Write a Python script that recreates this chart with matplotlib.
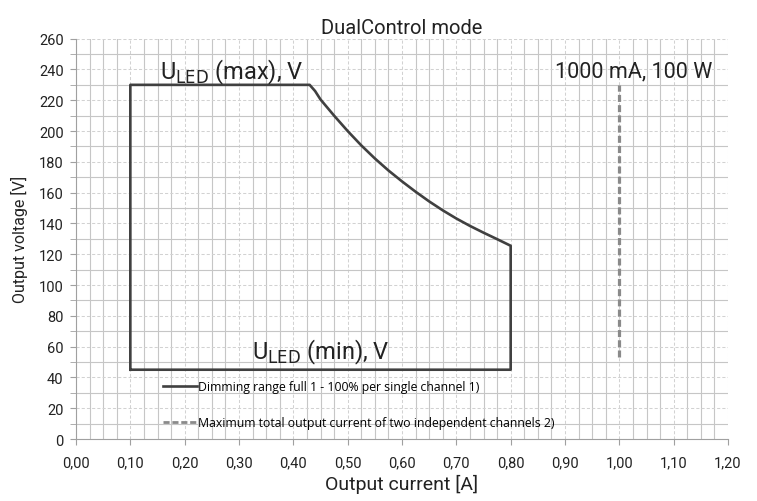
import matplotlib
matplotlib.use('Agg')
import matplotlib.pyplot as plt
from matplotlib.ticker import MultipleLocator, FuncFormatter
from matplotlib.lines import Line2D

plt.rcParams['font.family'] = ['Roboto', 'DejaVu Sans']

# Dimming range outline (output current [A], output voltage [V])
range_current = [0.10, 0.10, 0.43, 0.44, 0.45, 0.475, 0.50, 0.525, 0.55, 0.575, 0.60, 0.625,
                 0.65, 0.675, 0.70, 0.725, 0.75, 0.775, 0.80, 0.80, 0.10]
range_voltage = [45, 230, 230, 226, 220.5, 210, 200, 190.7, 182.2, 174.4, 167.3, 160.6,
                 154.3, 148.5, 143.2, 138.4, 134, 129.8, 125.5, 45, 45]

# Maximum total output current line
max_current = [1.00, 1.00]
max_voltage = [53, 230]

labels = ['Dimming range full 1 - 100% per single channel 1)',
          'Maximum total output current of two independent channels 2)']

fig = plt.figure(figsize=(7.57, 5.02), dpi=100)
ax = fig.add_axes([0.1004, 0.1235, 0.8613, 0.7975])

ax.plot(range_current, range_voltage, color='#404040', lw=1.9, solid_joinstyle='round', zorder=3)
ax.plot(max_current, max_voltage, color='#8a8a8a', lw=2.3, dashes=(2.2, 1.0), zorder=3)

ax.set_xlim(0, 1.2)
ax.set_ylim(0, 260)
ax.xaxis.set_major_locator(MultipleLocator(0.1))
ax.xaxis.set_minor_locator(MultipleLocator(0.025))
ax.yaxis.set_major_locator(MultipleLocator(20))
ax.yaxis.set_minor_locator(MultipleLocator(10))
ax.xaxis.set_major_formatter(FuncFormatter(lambda v, p: f'{v:.2f}'.replace('.', ',')))

ax.grid(which='minor', color='#c6c6c6', lw=0.8, ls='-')
ax.grid(which='major', color='#d2d2d2', lw=0.75, ls=(0, (3, 2)))
ax.set_axisbelow(True)

for s in ['top', 'right']:
    ax.spines[s].set_visible(False)
for s in ['left', 'bottom']:
    ax.spines[s].set_color('#a0a0a0')
ax.tick_params(which='both', color='#a0a0a0', length=4, labelsize=10.5, labelcolor='#222222')
ax.tick_params(axis='x', which='minor', length=0)
ax.tick_params(axis='x', pad=8)
ax.tick_params(axis='y', pad=5)

ax.set_xlabel('Output current [A]', fontsize=14, color='#222222', labelpad=3)
ax.set_ylabel('Output voltage [V]', fontsize=11.5, color='#222222', labelpad=8)
ax.set_title('DualControl mode', fontsize=14.5, color='#222222', pad=4)

ax.text(0.287, 239, r'U$_{\mathrm{LED}}$ (max), V', fontsize=17, ha='center', va='center', color='#222222')
ax.text(0.45, 57, r'U$_{\mathrm{LED}}$ (min), V', fontsize=17, ha='center', va='center', color='#222222')
ax.text(1.026, 239, '1000 mA, 100 W', fontsize=15.5, ha='center', va='center', color='#222222')

handles = [Line2D([], [], color='#404040', lw=1.9),
           Line2D([], [], color='#8a8a8a', lw=2.0, dashes=(2.2, 1.0))]
ax.legend(handles, labels, loc='lower left', bbox_to_anchor=(0.133, 0.025), frameon=False,
          handlelength=2.8, handletextpad=0.1, labelspacing=1.85, borderpad=0, borderaxespad=0,
          prop={'family': ['Open Sans', 'DejaVu Sans'], 'size': 8.8})

fig.savefig('out.png', dpi=100)
